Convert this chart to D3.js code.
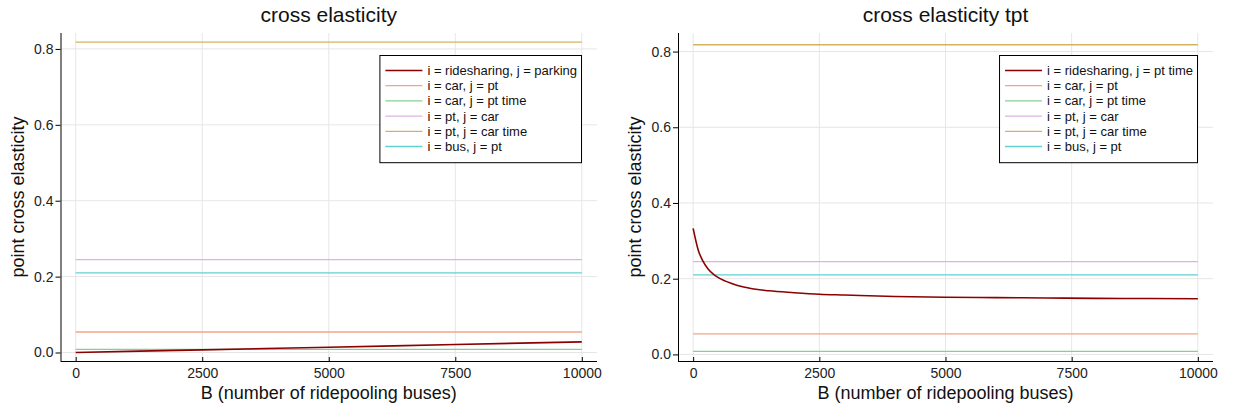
<!DOCTYPE html>
<html>
<head>
<meta charset="utf-8">
<script src="https://cdn.jsdelivr.net/npm/d3@7"></script>
<style>
  body { margin: 0; background: #fff; }
  svg { display: block; font-family: "Liberation Sans", Arial, sans-serif; }
</style>
</head>
<body>
<svg id="chart" width="1233" height="414"></svg>
<script>
// ---- data ----
var titles = ["cross elasticity", "cross elasticity tpt"];
var xTicks = [0, 2500, 5000, 7500, 10000];
var yTicks = [0.0, 0.2, 0.4, 0.6, 0.8];
var colors = ["#8b0000", "#f4a383", "#86cf94", "#dfb0e6", "#d4b35e", "#5fd2d2"];

var labelsLeft = [
  "i = ridesharing, j = parking",
  "i = car, j = pt",
  "i = car, j = pt time",
  "i = pt, j = car",
  "i = pt, j = car time",
  "i = bus, j = pt"
];
var labelsRight = [
  "i = ridesharing, j = pt time",
  "i = car, j = pt",
  "i = car, j = pt time",
  "i = pt, j = car",
  "i = pt, j = car time",
  "i = bus, j = pt"
];

// ridesharing curves
var bLeft = [0, 2500, 5000, 7500, 10000];
var ridesharingParking = [0.0, 0.007, 0.014, 0.021, 0.028];
var bRight = [0, 100, 200, 300, 400, 500, 750, 1000, 1500, 2000, 2500, 3000, 4000, 5000, 6000, 7000, 8000, 9000, 10000];
var ridesharingPtTime = [0.333, 0.276, 0.245, 0.225, 0.212, 0.203, 0.188, 0.178, 0.168, 0.163, 0.159, 0.157, 0.153, 0.151, 0.150, 0.149, 0.148, 0.1477, 0.147];

// flat series (same in both panels)
var bFlat = [0, 10000];
var carPt = [0.054, 0.054];
var carPtTime = [0.008, 0.008];
var ptCar = [0.245, 0.245];
var ptCarTime = [0.818, 0.818];
var busPt = [0.21, 0.21];

var panels = [
  {
    title: titles[0], labels: labelsLeft,
    x0: 60.5, x1: 597, yDomain: [-0.0224, 0.842],
    series: [[bLeft, ridesharingParking], [bFlat, carPt], [bFlat, carPtTime], [bFlat, ptCar], [bFlat, ptCarTime], [bFlat, busPt]],
    legendTop: 55
  },
  {
    title: titles[1], labels: labelsRight,
    x0: 678, x1: 1213, yDomain: [-0.0174, 0.849],
    series: [[bRight, ridesharingPtTime], [bFlat, carPt], [bFlat, carPtTime], [bFlat, ptCar], [bFlat, ptCarTime], [bFlat, busPt]],
    legendTop: 55
  }
];

var svg = d3.select("#chart");
var plotTop = 33, plotBottom = 361;
var FONT = "Liberation Sans, Arial, sans-serif";

panels.forEach(function (p) {
  var x = d3.scaleLinear().domain([-300, 10300]).range([p.x0, p.x1]);
  var y = d3.scaleLinear().domain(p.yDomain).range([plotBottom, plotTop]);
  var g = svg.append("g");

  // grid
  g.append("g").selectAll("line").data(xTicks).enter().append("line")
    .attr("x1", function (d) { return x(d); }).attr("x2", function (d) { return x(d); })
    .attr("y1", plotTop).attr("y2", plotBottom)
    .attr("stroke", "#e6e6e6").attr("stroke-width", 1);
  g.append("g").selectAll("line").data(yTicks).enter().append("line")
    .attr("x1", p.x0).attr("x2", p.x1)
    .attr("y1", function (d) { return y(d); }).attr("y2", function (d) { return y(d); })
    .attr("stroke", "#e6e6e6").attr("stroke-width", 1);

  // series
  var line = d3.line()
    .x(function (d) { return x(d[0]); })
    .y(function (d) { return y(d[1]); })
    .curve(d3.curveMonotoneX);
  // flat ones first, ridesharing on top
  [1, 2, 3, 4, 5, 0].forEach(function (i) {
    var s = p.series[i];
    g.append("path")
      .attr("d", line(d3.zip(s[0], s[1])))
      .attr("fill", "none")
      .attr("stroke", colors[i])
      .attr("stroke-width", i === 0 ? 1.6 : 1.3);
  });

  // axes
  var xAxis = d3.axisBottom(x).tickValues(xTicks).tickSize(-4).tickPadding(7).tickFormat(d3.format("d"));
  var ax = g.append("g").attr("transform", "translate(0," + plotBottom + ")").call(xAxis);
  ax.attr("font-size", 14).attr("font-family", FONT);
  ax.select(".domain").attr("d", "M" + p.x0 + ",0.5H" + p.x1).attr("stroke", "#000");
  ax.selectAll("text").attr("fill", "#222");

  var yAxis = d3.axisLeft(y).tickValues(yTicks).tickSize(5).tickPadding(2).tickFormat(d3.format(".1f"));
  var ay = g.append("g").attr("transform", "translate(" + p.x0 + ",0)").call(yAxis);
  ay.attr("font-size", 14).attr("font-family", FONT);
  ay.select(".domain").attr("d", "M0.5," + plotTop + "V" + plotBottom).attr("stroke", "#000");
  ay.selectAll("text").attr("fill", "#222");

  // title & labels
  var cx = (p.x0 + p.x1) / 2;
  g.append("text").attr("x", cx).attr("y", 22).attr("text-anchor", "middle")
    .attr("font-size", 21).attr("fill", "#111").text(p.title);
  g.append("text").attr("x", cx).attr("y", 399).attr("text-anchor", "middle")
    .attr("font-size", 18).attr("fill", "#111").text("B (number of ridepooling buses)");
  g.append("text")
    .attr("transform", "translate(" + (p.x0 - 37) + "," + ((plotTop + plotBottom) / 2) + ") rotate(-90)")
    .attr("text-anchor", "middle").attr("font-size", 18).attr("fill", "#111")
    .text("point cross elasticity");

  // legend
  var leg = g.append("g");
  var rowH = 15.2;
  var items = leg.selectAll("g").data(p.labels).enter().append("g")
    .attr("transform", function (d, i) { return "translate(0," + (p.legendTop + 15.5 + i * rowH) + ")"; });
  items.append("line").attr("x1", 6).attr("x2", 43).attr("y1", 0).attr("y2", 0)
    .attr("stroke", function (d, i) { return colors[i]; })
    .attr("stroke-width", function (d, i) { return i === 0 ? 1.6 : 1.3; });
  items.append("text").attr("x", 48).attr("y", 4.5).attr("font-size", 13).attr("fill", "#111")
    .text(function (d) { return d; });
  var w = d3.max(items.selectAll("text").nodes(), function (n) { return n.getComputedTextLength(); }) + 52;
  var bx = p.x1 - 16 - w;
  leg.attr("transform", "translate(" + bx + ",0)");
  leg.insert("rect", ":first-child")
    .attr("x", 0.5).attr("y", p.legendTop + 0.5)
    .attr("width", w).attr("height", rowH * 6 + 16)
    .attr("fill", "#fff").attr("stroke", "#000").attr("stroke-width", 1);
});
</script>
</body>
</html>
